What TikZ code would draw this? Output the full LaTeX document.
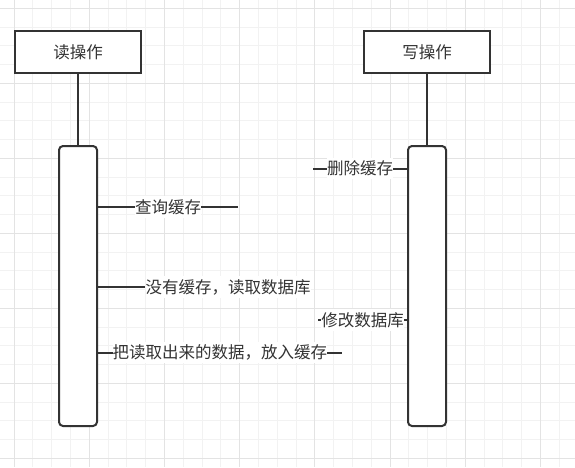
\documentclass[tikz,border=0pt]{standalone}
\usepackage{fontspec}
\newfontfamily\cjk{Noto Sans CJK SC}
\definecolor{ink}{HTML}{333333}
\definecolor{gridminor}{HTML}{F2F2F2}
\definecolor{gridmajor}{HTML}{E3E3E3}
\begin{document}
\begin{tikzpicture}[x=1pt,y=-1pt,
  actor/.style={draw=ink,line width=2pt,fill=white,minimum width=126pt,minimum height=42pt,inner sep=0pt,font=\cjk\fontsize{16.5}{18}\selectfont,text=ink},
  act/.style={draw=ink,line width=2pt,fill=white,rounded corners=4pt,minimum width=38pt,minimum height=280pt,inner sep=0pt},
  msg/.style={draw=ink,line width=2pt},
  life/.style={draw=ink,line width=2pt},
  lbl/.style={fill=white,inner xsep=0pt,inner ysep=3pt,font=\cjk\fontsize{16.5}{18}\selectfont,text=ink}]
\useasboundingbox (0,0) rectangle (575,467);
\fill[white] (0,0) rectangle (575,467);
\begin{scope}
\clip (0,0) rectangle (575,467);
\foreach \i in {-1,...,31} {
  \draw[gridminor,line width=1pt] ({14+18.8*\i},0) -- ({14+18.8*\i},467);
  \draw[gridminor,line width=1pt] (0,{8.3+18.75*\i}) -- (575,{8.3+18.75*\i});
}
\foreach \i in {0,4,...,28} {
  \draw[gridmajor,line width=1pt] ({14+18.8*\i},0) -- ({14+18.8*\i},467);
}
\foreach \i in {0,4,...,24} {
  \draw[gridmajor,line width=1pt] (0,{8.3+18.75*\i}) -- (575,{8.3+18.75*\i});
}
\end{scope}

\node[actor] (r) at (78,52) {读操作};
\node[actor] (w) at (427,52) {写操作};
\node[act] (ra) at (78,286) {};
\node[act] (wa) at (427,286) {};
\draw[life] (r.south) -- (ra.north);
\draw[life] (w.south) -- (wa.north);

\coordinate (m1s) at (313,168.5);
\draw[msg] (m1s) -- (m1s -| wa.west) node[lbl,midway] (l1) {删除缓存};

\coordinate (m2e) at (238,207);
\draw[msg] (ra.east |- m2e) -- (m2e) node[lbl,midway] (l2) {查询缓存};

\node[lbl] (l3) at (228,287) {没有缓存，读取数据库};
\draw[msg] (ra.east |- l3) -- (l3.west);

\coordinate (m4s) at (318,320);
\draw[msg] (m4s) -- (m4s -| wa.west) node[lbl,midway] (l4) {修改数据库};

\coordinate (m5e) at (341.5,352.5);
\draw[msg] (ra.east |- m5e) -- (m5e) node[lbl,midway] (l5) {把读取出来的数据，放入缓存};
\end{tikzpicture}
\end{document}
